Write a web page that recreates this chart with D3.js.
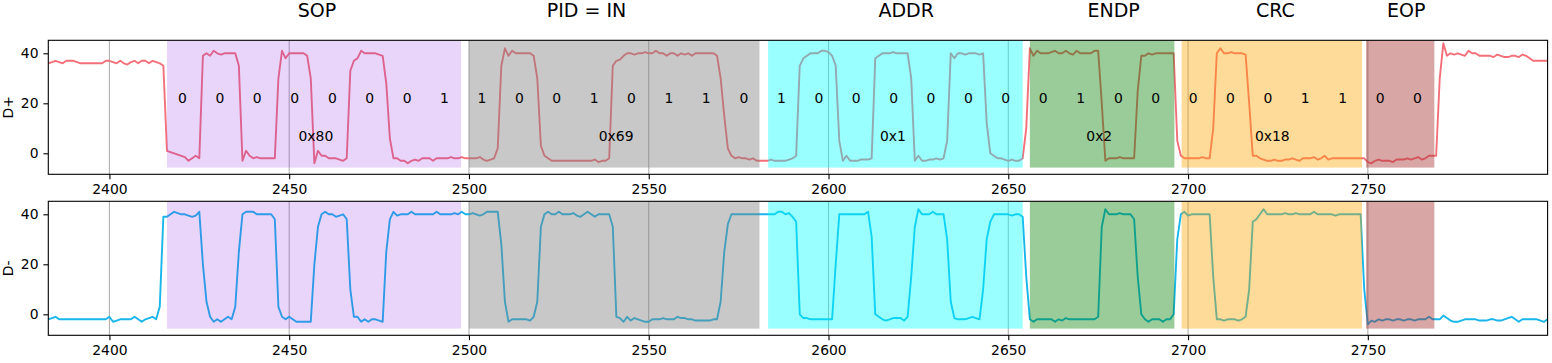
<!DOCTYPE html>
<html>
<head>
<meta charset="utf-8">
<script src="https://cdn.jsdelivr.net/npm/d3@7"></script>
<style>
  body { margin: 0; background: #fff; }
  svg { display: block; font-family: "DejaVu Sans", sans-serif; }
</style>
</head>
<body>
<div id="visualization"></div>
<script>
// first sample of both traces, one sample per x unit
const xStart = 2383

// D+ trace, rows of ten samples
const dPlus = [
  36, 36.5, 37, 36.5, 36, 37, 37,                         // 2383
  37, 36.5, 36, 36, 36, 36, 36, 36, 36, 37,               // 2390
  37, 36.5, 36, 37, 36, 35.5, 36.5, 37, 36, 37,           // 2400
  37, 36, 37, 36.5, 36, 35, 1, 0.5, 0, -0.5,              // 2410
  -1, -1.5, -3, -2, -1, -2, 39, 40, 39, 41,               // 2420
  40, 39.5, 40, 40, 40, 40, 35, -3, 1, -1,                // 2430
  -2, -1.5, -2, -2, -2, -2, -2, 30, 41, 38,               // 2440
  40, 40, 40, 40, 40, 39, 30, -4, 1, -1,                  // 2450
  -1, -2, -2, -2, -2.5, -3, -2, 33, 37, 38,               // 2460
  41, 40, 40, 40, 40, 39.5, 39, 28, 6, -2,                // 2470
  -2, -3, -3, -4, -3, -2.5, -3, -2, -2, -2,               // 2480
  -3, -2, -2, -2, -2, -1.5, -2, -2, -1.5, -2,             // 2490
  -2, -2, -2, -1.5, -2.5, -3, -2.5, -2, 2, 35,            // 2500
  42, 39, 41, 40, 40, 40, 40, 40, 39, 30,                 // 2510
  3, -1, -2, -3, -3, -3, -3, -3, -3, -3,                  // 2520
  -3, -3, -3, -3, -3, -2.5, -3.5, -3, -3, -2,             // 2530
  35, 37, 37.5, 39, 40, 40, 39.5, 40, 40, 40.5,           // 2540
  40, 40, 41, 40, 40, 39, 40, 40, 39, 40,                 // 2550
  39.5, 40, 39, 40, 40, 40, 40, 40, 40, 39,               // 2560
  30, 15, 2, -1, -2, -1.5, -2, -2, -2.5, -2,              // 2570
  -3, -3, -3, -3, -2.5, -3, -3, -3, -3, -2.5,             // 2580
  -2, -1, 35, 38, 39, 40, 40, 40, 41, 41,                 // 2590
  40.5, 39, 35, 5, -3, -1, -3, -3, -3, -2.5,              // 2600
  -2.5, -2.5, -2, 38, 39, 40, 40, 40, 40.5, 40,           // 2610
  40, 40, 40, 30, -3, -1, -3, -3, -2.5, -2.5,             // 2620
  -2, -2.5, -2, 5, 40, 38, 40, 40, 39.5, 40,              // 2630
  40, 40, 39.5, 40, 12, 0, -1, -2, -2, -2.5,              // 2640
  -3, -2.5, -3, -3, -2, 10, 42, 39, 41, 40,               // 2650
  40, 40, 40.5, 41, 40, 40, 41, 40, 39.5, 41,             // 2660
  40, 40, 40, 40, 41, 41, 20, -3, -2, -2,                 // 2670
  -2, -1.5, -2, -2, -2, -2, 25, 39, 39, 40,               // 2680
  39.5, 40, 40, 40, 40, 40, 40, 5, -1, -2,                // 2690
  -2, -2, -2, -2, -1.5, -2, -2, 10, 40, 42,               // 2700
  40, 40, 40.5, 40, 40, 40, 39.5, 20, -1, -1,             // 2710
  -2, -2.5, -3, -3, -2.5, -3, -3, -2.5, -2.5, -2,         // 2720
  -2.5, -3, -2, -2, -2, -1.5, -2.5, -2, -1, -2.5,         // 2730
  -2, -2, -2, -2, -2, -2, -2, -2, -2, -2,                 // 2740
  -3.5, -4, -3, -2.5, -3, -3, -3, -3.5, -2.5, -2.5,       // 2750
  -2.5, -2, -2.5, -2, -1.5, -2.5, -2, -1, -1, -1,         // 2760
  30, 44, 39, 40, 39.5, 40, 39.5, 39, 41, 40,             // 2770
  40, 39, 39, 39, 39, 38.5, 39.5, 39, 38.5, 38.5,         // 2780
  39, 39, 38.5, 39.5, 39, 38, 37, 37, 37, 37,             // 2790
  37                                                      // 2800
]

// D- trace
const dMinus = [
  -2, -1.5, -1, -2, -2, -2, -2,                           // 2383
  -2, -2, -2, -2, -2, -2, -2, -2, -2, -2,                 // 2390
  -1, -3, -2.5, -2, -2, -2, -2, -1, -2, -3,               // 2400
  -2, -1.5, -1, -2, 3, 39, 39, 40, 41, 40.5,              // 2410
  40, 40, 39.5, 39, 39.5, 41, 20, 5, -1, -3,              // 2420
  -2, -3, -2, -1, -2, 3, 25, 40, 41, 41,                  // 2430
  41, 40, 40, 40, 40, 40, 38, 3, -1, -2,                  // 2440
  -1, -2, -3, -3, -3, -3, -3, 20, 35, 40,                 // 2450
  41, 40, 40, 39, 39.5, 40, 38, 10, -1, -1,               // 2460
  -3, -2, -3, -2, -2, -2.5, -3, 25, 38, 41,               // 2470
  39.5, 40, 40, 40, 41, 40, 40, 40, 40, 40,               // 2480
  40, 41, 40, 40, 40, 40, 40.5, 40, 41, 40,               // 2490
  40, 40.5, 40, 39.5, 40, 41, 41, 41, 41, 28,             // 2500
  5, -3, -2, -2, -2, -2, -2, -2.5, -1, 5,                 // 2510
  35, 40, 41, 40, 40, 41, 40, 40, 40, 40.5,               // 2520
  39.5, 39, 40, 41, 40, 39, 40, 40, 40, 40,               // 2530
  35, -1, -1.5, -3, -1, -2.5, -1.5, -2, -2.5, -3,         // 2540
  -3, -2, -2, -2, -1.5, -2, -2, -2, -1, -1.5,             // 2550
  -1.5, -2, -2, -2.5, -2.5, -2.5, -2.5, -2.5, -2, -2,     // 2560
  5, 25, 36, 40, 40, 40, 40, 40, 40, 40,                  // 2570
  40, 40, 40, 40, 40, 40, 41, 41, 40, 40.5,               // 2580
  39, 37, 0, -1.5, -1.5, -2, -2, -2, -2, -2,              // 2590
  -2, -2, 20, 40, 40, 40, 40, 40, 40, 40,                 // 2600
  40, 41, 31, 0, -1, -2, -2.5, -2, -1.5, -1.5,            // 2610
  -1.5, -2.5, -1, 15, 35, 42, 40, 40, 40, 41,             // 2620
  40, 40, 40, 30, 5, -1.5, -2, -2, -2, -1.5,              // 2630
  -1, -1.5, -2, 10, 30, 37, 40, 40, 40, 40,               // 2640
  40, 39.5, 40, 40, 39, 15, -2, -3, -2, -2,               // 2650
  -2, -2, -2, -3, -2, -2.5, -1.5, -2, -2, -2,             // 2660
  -2, -2, -2, -2, -2, -1, 35, 42, 40, 40,                 // 2670
  40, 40.5, 40, 40, 40, 38, 15, 0, -2, -3,                // 2680
  -2, -2, -2, -3, -2, -2, 0, 30, 40, 41,                  // 2690
  39.5, 40, 40, 40, 40, 40, 40, 15, -2, -2,               // 2700
  -2.5, -2, -2, -2, -2.5, -2, -1, 10, 37, 38,             // 2710
  40, 42, 40, 40, 40, 40, 40, 40.5, 40, 40,               // 2720
  40.5, 40, 40, 40, 40, 41, 40, 40, 40, 40,               // 2730
  40, 39.5, 40, 40, 40, 40, 40, 40, 40, 10,               // 2740
  -4, -2.5, -3, -2, -2.5, -2, -2, -2.5, -2, -2,           // 2750
  -2.5, -2, -2, -2.5, -2, -2, -2, -1, -2, -2,             // 2760
  -2, -0.5, -1.5, -2.5, -3, -3, -2.5, -2, -2, -2,         // 2770
  -2, -2.5, -2.5, -2.5, -2, -2, -2.5, -2.5, -2, -1.5,     // 2780
  -1, -2, -3, -2, -2, -2, -2, -2, -2.5, -3,               // 2790
  -2                                                      // 2800
]

// packet fields
const segNames = ['SOP', 'PID = IN', 'ADDR', 'ENDP', 'CRC', 'EOP']
const segValues = ['0x80', '0x69', '0x1', '0x2', '0x18', '']
const segStart = [2416, 2500, 2583.2, 2656, 2698.2, 2749.5]
const segEnd = [2497.8, 2580.8, 2654, 2696.2, 2748.4, 2768.5]
const segTitleX = [2457.7, 2532.7, 2621.6, 2679.3, 2724.3, 2760.7]
const segValueX = [2452.6, 2536.1, 2614.3, 2671.7, 2718.6, 0]
const segColors = ['#8a2be2', '#808080', '#00ffff', '#008000', '#ffa500', '#a52a2a']
const segAlpha = [0.2, 0.43, 0.4, 0.4, 0.4, 0.42]

// decoded bits
const bitX = [2420.3, 2430.7, 2441.1, 2451.5, 2462.0, 2472.4, 2482.8, 2493.2,
  2503.6, 2514.0, 2524.4, 2534.8, 2545.2, 2555.6, 2566.0, 2576.5,
  2586.9, 2597.3, 2607.7, 2618.1, 2628.5, 2638.9, 2649.3,
  2659.7, 2670.1, 2680.6, 2691.0,
  2701.4, 2711.8, 2722.2, 2732.6, 2743.0,
  2753.4, 2763.8]
const bitVals = ['0', '0', '0', '0', '0', '0', '0', '1',
  '1', '0', '0', '1', '0', '1', '1', '0',
  '1', '0', '0', '0', '0', '0', '0',
  '0', '1', '0', '0',
  '0', '0', '0', '1', '1',
  '0', '0']

const xTicks = [2400, 2450, 2500, 2550, 2600, 2650, 2700, 2750]
const yTicks = [0, 20, 40]

//BOX
const w = 1552
const h = 363
const left = 48.3
const right = 1547.6
const panels = [
  { top: 40.3, bottom: 174.3, values: dPlus, color: '#f3707a', label: 'D+', text: true },
  { top: 201.3, bottom: 335.3, values: dMinus, color: '#18b6ea', label: 'D-', text: false }
]

const xScale = d3.scaleLinear()
  .domain([2383, 2800])
  .range([left, right])

const svg = d3.select('#visualization')
  .append('svg')
  .attr('width', w)
  .attr('height', h)

//TITLES
svg.selectAll('.seg-title')
  .data(segNames)
  .enter()
  .append('text')
  .attr('class', 'seg-title')
  .attr('x', (d, i) => xScale(segTitleX[i]))
  .attr('y', 17)
  .attr('text-anchor', 'middle')
  .style('font-size', '19px')
  .text(d => d)

panels.forEach((p, k) => {
  const yScale = d3.scaleLinear()
    .domain([-8.4, 45.2])
    .range([p.bottom, p.top])

  const g = svg.append('g')

  g.append('clipPath')
    .attr('id', 'area' + k)
    .append('rect')
    .attr('x', left)
    .attr('y', p.top)
    .attr('width', right - left)
    .attr('height', p.bottom - p.top)

  //GRID
  g.selectAll('.grid')
    .data(xTicks)
    .enter()
    .append('line')
    .attr('x1', d => xScale(d))
    .attr('x2', d => xScale(d))
    .attr('y1', p.top)
    .attr('y2', p.bottom)
    .attr('stroke', '#b0b0b0')
    .attr('stroke-width', 1.1)

  //TRACE
  const line = d3.line()
    .x((d, i) => xScale(xStart + i))
    .y(d => yScale(d))

  g.append('path')
    .datum(p.values)
    .attr('clip-path', 'url(#area' + k + ')')
    .attr('d', line)
    .attr('fill', 'none')
    .attr('stroke', p.color)
    .attr('stroke-width', 1.9)
    .attr('stroke-linejoin', 'round')

  //FIELD SPANS (5% up from the bottom to the top)
  const spanBottom = p.bottom - 0.05 * (p.bottom - p.top)
  g.selectAll('.span')
    .data(segStart)
    .enter()
    .append('rect')
    .attr('x', d => xScale(d))
    .attr('width', (d, i) => xScale(segEnd[i]) - xScale(d))
    .attr('y', p.top)
    .attr('height', spanBottom - p.top)
    .attr('fill', (d, i) => segColors[i])
    .attr('fill-opacity', (d, i) => segAlpha[i])

  if (p.text) {
    g.selectAll('.bit')
      .data(bitVals)
      .enter()
      .append('text')
      .attr('x', (d, i) => xScale(bitX[i]))
      .attr('y', yScale(20))
      .attr('text-anchor', 'middle')
      .style('font-size', '13.9px')
      .text(d => d)

    g.selectAll('.val')
      .data(segValues.filter(d => d))
      .enter()
      .append('text')
      .attr('x', (d, i) => xScale(segValueX[i]))
      .attr('y', yScale(5))
      .style('font-size', '13.9px')
      .text(d => d)
  }

  //AXES
  const xaxis = d3.axisBottom(xScale)
    .tickValues(xTicks)
    .tickSize(4.9)
    .tickPadding(4.9)
    .tickFormat(d3.format('d'))

  const yaxis = d3.axisLeft(yScale)
    .tickValues(yTicks)
    .tickSize(4.9)
    .tickPadding(4.9)

  g.append('g')
    .attr('transform', 'translate(0,' + p.bottom + ')')
    .call(xaxis)
  g.append('g')
    .attr('transform', 'translate(' + left + ',0)')
    .call(yaxis)

  g.selectAll('.domain').remove()
  g.selectAll('.tick line').attr('stroke', '#000').attr('stroke-width', 1.1)
  g.selectAll('.tick text')
    .attr('fill', '#000')
    .style('font-size', '13.9px')
    .style('font-family', '"DejaVu Sans", sans-serif')

  // frame
  g.append('rect')
    .attr('x', left)
    .attr('y', p.top)
    .attr('width', right - left)
    .attr('height', p.bottom - p.top)
    .attr('fill', 'none')
    .attr('stroke', '#000')
    .attr('stroke-width', 1.1)

  // y label
  g.append('text')
    .attr('transform', `translate(12.5,${(p.top + p.bottom) / 2}) rotate(-90)`)
    .attr('text-anchor', 'middle')
    .style('font-size', '13.9px')
    .text(p.label)
})
</script>
</body>
</html>
